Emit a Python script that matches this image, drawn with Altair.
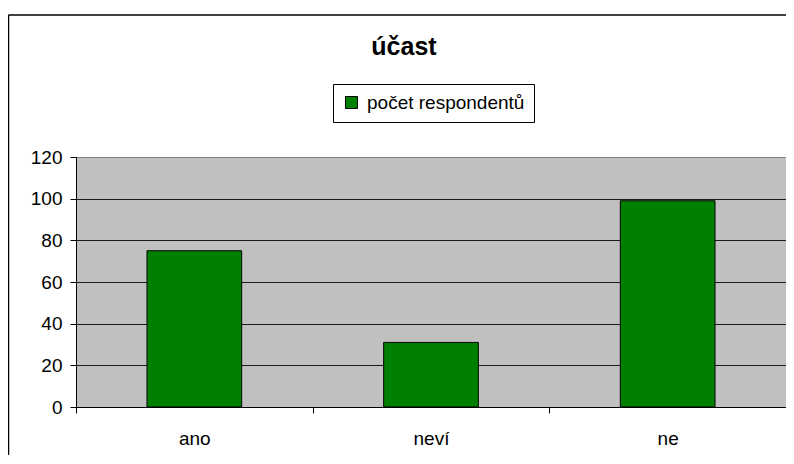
import altair as alt
import pandas as pd

categories = ["ano", "neví", "ne"]
values = [75, 31, 99]
series_name = "počet respondentů"
title_text = "účast"
y_ticks = [0, 20, 40, 60, 80, 100, 120]

df = pd.DataFrame({"kategorie": categories, "pocet": values, "serie": [series_name] * len(categories)})
frame_df = pd.DataFrame({"k": [0]})

W, H = 710, 250
FONT = "Liberation Sans"

bars = alt.Chart(df).mark_bar(
    stroke="black", strokeWidth=1, width=alt.RelativeBandSize(0.4), opacity=1
).encode(
    x=alt.X(
        "kategorie:N", sort=categories, title=None,
        scale=alt.Scale(paddingInner=0, paddingOuter=0),
        axis=alt.Axis(
            labelAngle=0, tickBand="extent", domainColor="black", domainWidth=1,
            tickColor="black", tickSize=6, labelFontSize=19, labelFont=FONT,
            labelColor="black", labelPadding=16, grid=False,
        ),
    ),
    y=alt.Y(
        "pocet:Q", title=None,
        scale=alt.Scale(domain=[0, 120], nice=False),
        axis=alt.Axis(
            values=y_ticks, grid=True,
            gridColor={"condition": {"test": "datum.value === 120", "value": "#808080"}, "value": "#1a1a1a"},
            gridWidth=1, domainColor="black", tickColor="black", tickSize=6,
            labelFontSize=19, labelFont=FONT, labelColor="black", labelPadding=8,
        ),
    ),
    color=alt.Color(
        "serie:N",
        scale=alt.Scale(range=["#008000"]),
        legend=alt.Legend(
            title=None, orient="none", legendX=257, legendY=-73,
            padding=9, strokeColor="black", fillColor="white",
            symbolType="square", symbolSize=144, symbolStrokeColor="black",
            symbolStrokeWidth=1, symbolOpacity=1, labelFontSize=19, labelFont=FONT,
            labelColor="black", labelOffset=6, labelLimit=400,
        ),
    ),
)

frame_top = alt.Chart(frame_df).mark_rule(color="black", strokeWidth=1.5).encode(
    x=alt.value(-67.5), x2=alt.value(720), y=alt.value(-142)
)
frame_left = alt.Chart(frame_df).mark_rule(color="black", strokeWidth=1.5).encode(
    x=alt.value(-67.5), y=alt.value(-142), y2=alt.value(320)
)

chart = alt.layer(bars, frame_top, frame_left).properties(
    width=W, height=H,
    title=alt.TitleParams(
        title_text, fontSize=25, font=FONT, fontWeight="bold", color="black",
        anchor="middle", frame="group", dx=-27, offset=0, dy=46,
    ),
    autosize=alt.AutoSizeParams(type="none"),
    padding={"left": 68, "top": 149, "right": 0, "bottom": 48},
).configure_view(
    fill="#C0C0C0", stroke="#808080", strokeWidth=1
)

chart.save("out.html", embed_options={"renderer": "svg", "actions": False})
